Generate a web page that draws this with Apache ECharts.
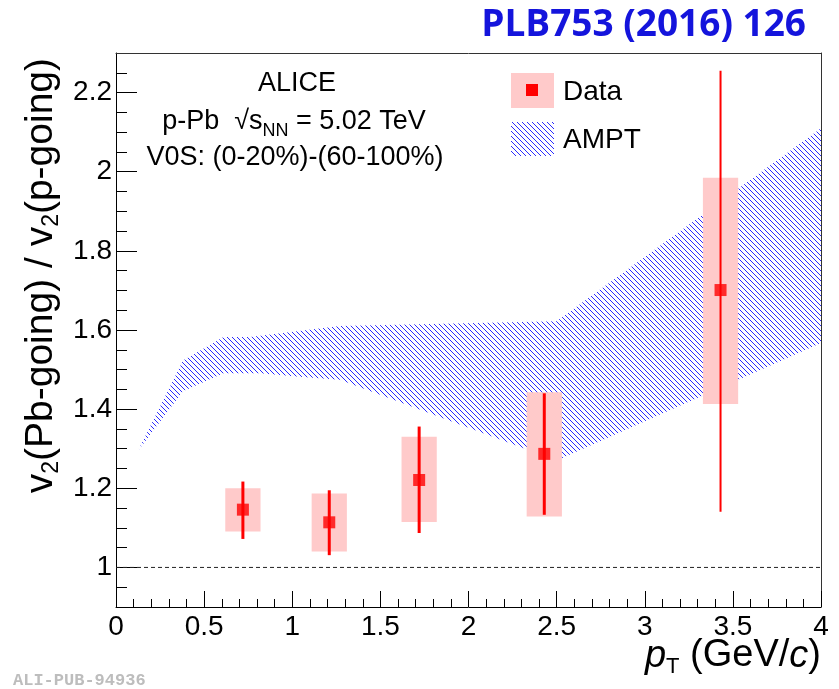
<!DOCTYPE html>
<html><head><meta charset="utf-8">
<script src="https://cdn.jsdelivr.net/npm/echarts@6/dist/echarts.min.js"></script>
<style>html,body{margin:0;padding:0;background:#fff}#chart{width:839px;height:689px}</style>
</head><body><div id="chart"></div>
<script>
// ---- data ----
const ptValues    = [0.72, 1.21, 1.72, 2.43, 3.43];
const ratioValues = [1.146, 1.114, 1.221, 1.287, 1.701];
const statLow     = [1.072, 1.031, 1.087, 1.133, 1.141];
const statHigh    = [1.217, 1.195, 1.356, 1.440, 2.255];
const sysLow      = [1.091, 1.040, 1.115, 1.129, 1.413];
const sysHigh     = [1.200, 1.187, 1.330, 1.443, 1.985];
const sysHalfWidth = [0.1, 0.1, 0.1, 0.1, 0.1];

const amptUpperPt = [0.125, 0.38, 0.61, 0.76, 1.27, 2.5, 4.0];
const amptUpper   = [1.295, 1.523, 1.582, 1.582, 1.610, 1.622, 2.11];
const amptLowerPt = [0.125, 0.38, 0.61, 0.82, 1.04, 1.27, 2.5, 4.0];
const amptLower   = [1.295, 1.445, 1.491, 1.491, 1.482, 1.474, 1.27, 1.567];

const refLineX = [0, 4];
const refLineY = [1, 1];

const yTickLabels = [1, 1.2, 1.4, 1.6, 1.8, 2, 2.2];
const yMinorTicks = [0.95, 1.05, 1.1, 1.15, 1.25, 1.3, 1.35, 1.45, 1.5, 1.55, 1.65, 1.7, 1.75,
                     1.85, 1.9, 1.95, 2.05, 2.1, 2.15, 2.25];

// ---- hatch pattern ----
const hatch = document.createElement('canvas');
hatch.width = 5; hatch.height = 5;
(function(){
  const ctx = hatch.getContext('2d');
  ctx.fillStyle = '#2a2aff';
  for (let i = 0; i < 5; i++) ctx.fillRect(i, i, 1, 1);
})();
const hatchFill = { image: hatch, repeat: 'repeat' };

const FONT = '"Liberation Sans", Arial, Helvetica, sans-serif';
const chart = echarts.init(document.getElementById('chart'));

const noLabel = { show: false };
const noSplit = { show: false };

const option = {
  animation: false,
  backgroundColor: '#fff',
  grid: { left: 116, right: 18, top: 53, bottom: 82, show: false },
  xAxis: [{
    type: 'value', min: 0, max: 4, interval: 0.5, position: 'bottom',
    axisLine: { show: true, onZero: false, lineStyle: { color: '#000', width: 1 } },
    axisTick: { show: true, inside: true, length: 16, lineStyle: { color: '#000', width: 1 } },
    minorTick: { show: true, splitNumber: 5, length: 8, lineStyle: { color: '#000', width: 1 } },
    splitLine: noSplit,
    axisLabel: { color: '#000', fontSize: 28, fontFamily: FONT, margin: 6 }
  }, {
    type: 'value', min: 0, max: 4, interval: 0.5, position: 'top',
    axisLine: { show: true, onZero: false, lineStyle: { color: '#333', width: 1 } },
    axisTick: { show: false }, splitLine: noSplit, axisLabel: noLabel
  }],
  yAxis: [{
    type: 'value', min: 0.9, max: 2.3, position: 'left',
    axisLine: { show: true, onZero: false, lineStyle: { color: '#000', width: 1 } },
    axisTick: { show: false },
    splitLine: noSplit,
    axisLabel: { color: '#000', fontSize: 28, fontFamily: FONT, margin: 4, customValues: yTickLabels }
  }, {
    type: 'value', min: 0.9, max: 2.3, position: 'left', offset: 0,
    axisLine: { show: false, onZero: false },
    axisTick: { show: true, inside: true, length: 21, customValues: yTickLabels, lineStyle: { color: '#000', width: 1 } },
    splitLine: noSplit, axisLabel: noLabel
  }, {
    type: 'value', min: 0.9, max: 2.3, position: 'left', offset: 0,
    axisLine: { show: false, onZero: false },
    axisTick: { show: true, inside: true, length: 11, customValues: yMinorTicks, lineStyle: { color: '#000', width: 1 } },
    splitLine: noSplit, axisLabel: noLabel
  }, {
    type: 'value', min: 0.9, max: 2.3, position: 'right', offset: 0,
    axisLine: { show: true, onZero: false, lineStyle: { color: '#333', width: 1 } },
    axisTick: { show: false }, splitLine: noSplit, axisLabel: noLabel
  }],
  series: [
    {
      type: 'custom', name: 'AMPT', clip: true, z: 1,
      data: [[amptUpperPt[0], amptUpper[0]]],
      renderItem: function (params, api) {
        const pts = [];
        for (let i = 0; i < amptUpperPt.length; i++) pts.push(api.coord([amptUpperPt[i], amptUpper[i]]));
        for (let i = amptLowerPt.length - 1; i >= 0; i--) pts.push(api.coord([amptLowerPt[i], amptLower[i]]));
        return { type: 'polygon', shape: { points: pts }, style: { fill: hatchFill, stroke: null } };
      }
    },
    {
      type: 'line', z: 2, symbol: 'none', silent: true,
      data: refLineX.map((x, i) => [x, refLineY[i]]),
      lineStyle: { color: '#222', width: 1, type: [4, 3] }
    },
    {
      type: 'custom', name: 'sys', clip: true, z: 3,
      data: ptValues.map((p, i) => [p, sysLow[i], sysHigh[i], sysHalfWidth[i]]),
      encode: { x: 0, y: [1, 2] },
      renderItem: function (params, api) {
        const x = api.value(0), lo = api.value(1), hi = api.value(2), hw = api.value(3);
        const a = api.coord([x - hw, hi]);
        const b = api.coord([x + hw, lo]);
        return { type: 'rect', shape: { x: a[0], y: a[1], width: b[0] - a[0], height: b[1] - a[1] },
                 style: { fill: '#ffcaca', stroke: null } };
      }
    },
    {
      type: 'custom', name: 'stat', clip: true, z: 4,
      data: ptValues.map((p, i) => [p, statLow[i], statHigh[i]]),
      encode: { x: 0, y: [1, 2] },
      renderItem: function (params, api) {
        const x = api.value(0);
        const a = api.coord([x, api.value(2)]);
        const b = api.coord([x, api.value(1)]);
        const w = params.dataIndex === ptValues.length - 1 ? 2 : 3;
        return { type: 'line', shape: { x1: a[0], y1: a[1], x2: b[0], y2: b[1] },
                 style: { stroke: '#ff0000', lineWidth: w } };
      }
    },
    {
      type: 'scatter', name: 'Data', z: 5, symbol: 'rect', symbolSize: 12,
      itemStyle: { color: '#ff0000' },
      data: ptValues.map((p, i) => [p, ratioValues[i]])
    }
  ],
  graphic: [
    { type: 'text', x: 806, y: 25, style: { text: 'PLB753 (2016) 126', font: 'bold 37px "Open Sans", sans-serif', fill: '#1414dc', align: 'right', verticalAlign: 'middle' } },
    { type: 'text', x: 297, y: 84, style: { text: 'ALICE', font: '27px ' + FONT, fill: '#000', align: 'center', verticalAlign: 'middle' } },
    { type: 'text', x: 294, y: 122, style: {
        text: '{n|p-Pb  √}{o|s}{sub|NN}{n| = 5.02 TeV}', align: 'center', verticalAlign: 'middle', fill: '#000',
        rich: {
          n: { fontSize: 27, fontFamily: FONT, fill: '#000', lineHeight: 36 },
          o: { fontSize: 27, fontFamily: FONT, fill: '#000', lineHeight: 36 },
          sub: { fontSize: 18, fontFamily: FONT, fill: '#000', lineHeight: 18, verticalAlign: 'bottom' }
        } } },
    { type: 'text', x: 295, y: 158, style: { text: 'V0S: (0-20%)-(60-100%)', font: '27px ' + FONT, fill: '#000', align: 'center', verticalAlign: 'middle' } },
    // legend
    { type: 'rect', shape: { x: 511, y: 73, width: 43, height: 35 }, style: { fill: '#ffcaca' } },
    { type: 'rect', shape: { x: 526, y: 84, width: 12, height: 12 }, style: { fill: '#ff0000' } },
    { type: 'text', x: 563, y: 92, style: { text: 'Data', font: '28px ' + FONT, fill: '#000', align: 'left', verticalAlign: 'middle' } },
    { type: 'rect', shape: { x: 511, y: 122, width: 43, height: 34 }, style: { fill: hatchFill } },
    { type: 'text', x: 563, y: 140, style: { text: 'AMPT', font: '28px ' + FONT, fill: '#000', align: 'left', verticalAlign: 'middle' } },
    // axis titles
    { type: 'text', x: 821, y: 656, style: {
        text: '{i|p}{sub|T}{n| (GeV/}{i|c}{n|)}', align: 'right', verticalAlign: 'middle', fill: '#000',
        rich: {
          i: { fontSize: 38, fontFamily: FONT, fontStyle: 'italic', lineHeight: 44 },
          n: { fontSize: 38, fontFamily: FONT, lineHeight: 44 },
          sub: { fontSize: 22, fontFamily: FONT, lineHeight: 22, verticalAlign: 'bottom' }
        } } },
    { type: 'text', x: 41, y: 58, rotation: Math.PI / 2, style: {
        text: '{n|v}{sub|2}{n|(Pb-going) / v}{sub|2}{n|(p-going)}', align: 'right', verticalAlign: 'middle', fill: '#000',
        rich: {
          n: { fontSize: 39, fontFamily: FONT, lineHeight: 44 },
          sub: { fontSize: 23, fontFamily: FONT, lineHeight: 23, verticalAlign: 'bottom' }
        } } },
    { type: 'text', x: 13, y: 681, style: { text: 'ALI-PUB-94936', font: 'bold 17px "Liberation Mono", "DejaVu Sans Mono", monospace', fill: '#bdbdbd', align: 'left', verticalAlign: 'middle' } }
  ]
};
chart.setOption(option);
</script>
</body></html>
